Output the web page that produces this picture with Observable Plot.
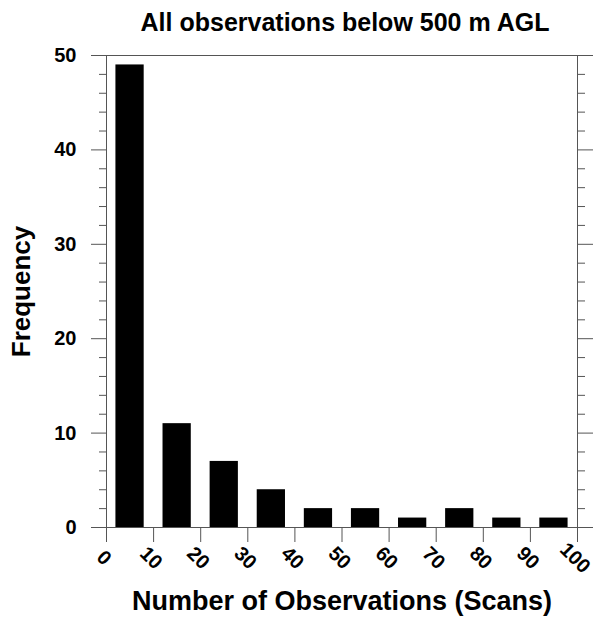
<!DOCTYPE html>
<html>
<head>
<meta charset="utf-8">
<script src="https://cdn.jsdelivr.net/npm/d3@7"></script>
<script src="https://cdn.jsdelivr.net/npm/@observablehq/plot@0.6"></script>
<style>
  html, body { margin: 0; padding: 0; background: #fff; }
</style>
</head>
<body>
<div id="chart"></div>
<script>
// Histogram bins (left edge of each 10-scan bin) and their counts
const binStarts = [0, 10, 20, 30, 40, 50, 60, 70, 80, 90];
const counts = [49, 11, 7, 4, 2, 2, 1, 2, 1, 1];
const xTicks = [0, 10, 20, 30, 40, 50, 60, 70, 80, 90, 100];
const yTicks = [0, 10, 20, 30, 40, 50];
const yMinorTicks = d3.range(0, 51, 2).filter(v => v % 10 !== 0);

const titleText = "All observations below 500 m AGL";
const xTitle = "Number of Observations (Scans)";
const yTitle = "Frequency";

const bars = binStarts.map((lo, i) => ({lo, count: counts[i]}));
const lineColor = "#555";
const noText = () => "";

const chart = Plot.plot({
  width: 594,
  height: 627,
  marginLeft: 106,
  marginRight: 17,
  marginTop: 55,
  marginBottom: 100,
  style: {
    fontFamily: "'Liberation Sans', Arial, Helvetica, sans-serif",
    fontWeight: "bold",
    color: "#000",
    background: "#fff"
  },
  x: {domain: [0, 100]},
  y: {domain: [0, 50]},
  marks: [
    // bars occupy the middle 6 units of each 10-unit bin
    Plot.rect(bars, {x1: d => d.lo + 2, x2: d => d.lo + 8, y1: 0, y2: "count", fill: "#000"}),
    Plot.frame({stroke: lineColor}),
    // y axis: outward ticks on both sides
    Plot.axisY(yTicks, {anchor: "left", tickSize: 15, tickPadding: 15, fontSize: 20, stroke: lineColor, label: null}),
    Plot.axisY(yMinorTicks, {anchor: "left", tickSize: 7, tickFormat: noText, stroke: lineColor, label: null}),
    Plot.axisY(yTicks, {anchor: "right", tickSize: 15, tickFormat: noText, stroke: lineColor, label: null}),
    Plot.axisY(yMinorTicks, {anchor: "right", tickSize: 7, tickFormat: noText, stroke: lineColor, label: null}),
    // x axis ticks and rotated labels
    Plot.axisX(xTicks, {anchor: "bottom", tickSize: 15, tickFormat: noText, stroke: lineColor, label: null}),
    Plot.text(xTicks, {x: d => d, frameAnchor: "bottom", dy: 35, dx: -7, rotate: 45, text: d => String(d), fontSize: 20, fill: "#000"}),
    // titles
    Plot.text([titleText], {frameAnchor: "top", dy: -42, dx: 3, text: d => d, fontSize: 25, fill: "#000"}),
    Plot.text([xTitle], {frameAnchor: "bottom", dy: 82, text: d => d, fontSize: 27, fill: "#000"}),
    Plot.text([yTitle], {frameAnchor: "left", textAnchor: "middle", dx: -85, rotate: -90, text: d => d, fontSize: 26, fill: "#000"})
  ]
});

document.getElementById("chart").appendChild(chart);
</script>
</body>
</html>
